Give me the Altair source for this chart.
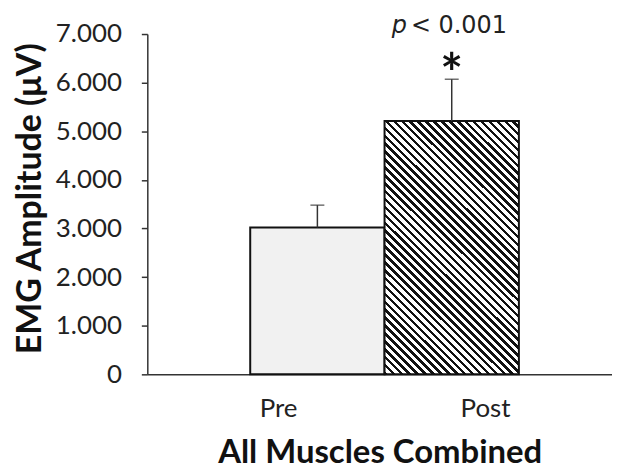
import altair as alt
import pandas as pd

groups = ["Pre", "Post"]
means = [3.02, 5.21]
errors = [0.46, 0.86]
y_ticks = [0, 1, 2, 3, 4, 5, 6, 7]
p_text = "< 0.001"
star_text = "*"

df = pd.DataFrame({
    "group": groups,
    "mean": means,
    "upper": [m + e for m, e in zip(means, errors)],
})

# diagonal hatch via hard-stop linear gradient
N = 49
stops = []
for k in range(N):
    stops.append({"offset": k / N, "color": "#111111"})
    stops.append({"offset": (k + 0.45) / N, "color": "#111111"})
    stops.append({"offset": (k + 0.45) / N, "color": "#ffffff"})
    stops.append({"offset": (k + 1) / N, "color": "#ffffff"})
hatch = {"gradient": "linear", "x1": 0, "y1": 1, "x2": 0.6324, "y2": -0.1946, "stops": stops}

FONT = "Lato"
PFONT = "DejaVu Sans"

xscale = alt.Scale(domain=groups, paddingInner=0, paddingOuter=0.7296, align=0.525)
yscale = alt.Scale(domain=[0, 7])

x_enc = alt.X("group:N", scale=xscale, sort=groups,
              axis=alt.Axis(title="All Muscles Combined", labelAngle=0, ticks=False,
                            domainColor="#333333", domainWidth=1.5,
                            labelFont=FONT, labelFontSize=26, labelColor="#222222",
                            labelPadding=21,
                            labelOffset={"condition": {"test": "datum.value === 'Pre'", "value": -39}, "value": 34},
                            titleFont=FONT, titleFontSize=33, titleFontWeight="bold",
                            titleColor="#111111", titlePadding=16))

base = alt.Chart(df)

bars = base.mark_bar(stroke="#111111", strokeWidth=2).encode(
    x=x_enc,
    y=alt.Y("mean:Q", scale=yscale,
            axis=alt.Axis(title="EMG Amplitude (μV)", values=y_ticks, grid=False,
                          labelExpr="datum.value == 0 ? '0' : format(datum.value, '.3f')",
                          domainColor="#333333", domainWidth=1.5,
                          tickColor="#333333", tickWidth=1.5, tickSize=6,
                          labelFont=FONT, labelFontSize=26, labelColor="#222222",
                          labelPadding=20,
                          titleFont=FONT, titleFontSize=34, titleFontWeight="bold",
                          titleColor="#111111", titlePadding=8, titleY=165)),
    fill=alt.condition(alt.datum.group == "Pre", alt.value("#f1f1f1"), alt.value(hatch)),
)

err_rule = base.mark_rule(color="#333333", strokeWidth=1.5).encode(
    x=alt.X("group:N", scale=xscale, sort=groups),
    y=alt.Y("mean:Q", scale=yscale),
    y2="upper:Q",
)
err_cap = base.mark_tick(color="#333333", thickness=1.5, size=14).encode(
    x=alt.X("group:N", scale=xscale, sort=groups),
    y=alt.Y("upper:Q", scale=yscale),
)

ann = pd.DataFrame({"group": ["Post"], "p_y": [7.03], "star_y": [6.48]})
annb = alt.Chart(ann)
p_italic = annb.mark_text(text="p", font=PFONT, fontSize=24, fontStyle="italic",
                          color="#222222", align="right", dx=-45, baseline="alphabetic").encode(
    x=alt.X("group:N", scale=xscale, sort=groups), y=alt.Y("p_y:Q", scale=yscale))
p_rest = annb.mark_text(text=p_text, font=PFONT, fontSize=24, color="#222222",
                        align="left", dx=-41, baseline="alphabetic").encode(
    x=alt.X("group:N", scale=xscale, sort=groups), y=alt.Y("p_y:Q", scale=yscale))
star = annb.mark_text(text=star_text, font=FONT, fontSize=54, fontWeight="bold", color="#111111",
                      align="center", baseline="middle", dy=18).encode(
    x=alt.X("group:N", scale=xscale, sort=groups), y=alt.Y("star_y:Q", scale=yscale))

chart = alt.layer(bars, err_rule, err_cap, p_italic, p_rest, star).properties(
    width=467, height=342,
    autosize=alt.AutoSizeParams(type="none"),
    padding={"left": 140, "top": 25, "right": 0, "bottom": 99},
).configure_view(stroke=None)

chart.save("out.html", embed_options={"renderer": "svg", "actions": False})
